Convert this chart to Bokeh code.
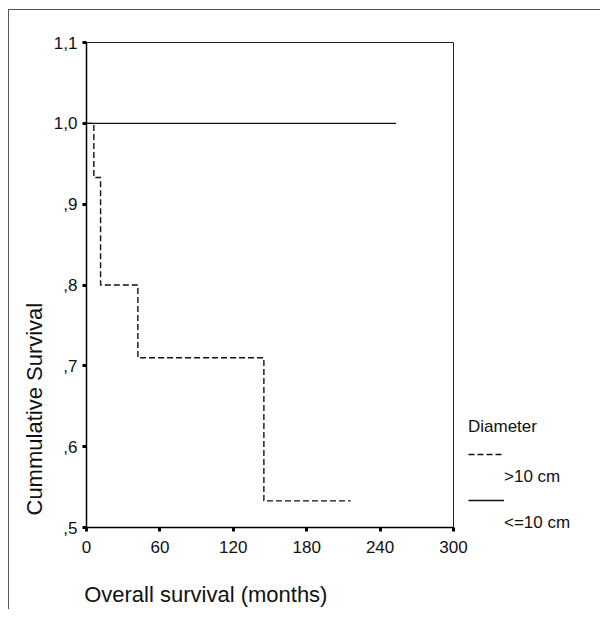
from bokeh.plotting import figure
from bokeh.models import FixedTicker, Range1d, Title, Legend, LegendItem
from bokeh.embed import file_html
from bokeh.resources import INLINE

# ---- data ----
x_ticks = [0, 60, 120, 180, 240, 300]
x_tick_labels = ["0", "60", "120", "180", "240", "300"]
y_ticks = [0.5, 0.6, 0.7, 0.8, 0.9, 1.0, 1.1]
y_tick_labels = [",5", ",6", ",7", ",8", ",9", "1,0", "1,1"]

# Diameter > 10 cm (dashed step curve)
time_gt10 = [0, 6, 11.5, 42, 145, 216]
surv_gt10 = [1.0, 0.933, 0.8, 0.71, 0.533, 0.533]
# Diameter <= 10 cm (solid line)
time_le10 = [0, 253]
surv_le10 = [1.0, 1.0]

legend_title = "Diameter"
series_labels = [">10 cm", "<=10 cm"]
x_label = "Overall survival (months)"
y_label = "Cummulative Survival"

FONT = "Liberation Sans"
INK = "#111111"
NBSP = "\u00a0"

p = figure(frame_width=367, frame_height=485, output_backend="svg", toolbar_location=None,
           x_range=Range1d(0, 300), y_range=Range1d(0.5, 1.1),
           min_border_left=86, min_border_right=147, min_border_top=42,
           min_border_bottom=82)
p.grid.visible = False
p.outline_line_color = "#222222"
p.outline_line_width = 1
p.background_fill_color = "white"
p.border_fill_color = None
# outer frame lines (top and left) drawn as the page background behind the canvas
p.styles = {
    "background-color": "white",
    "background-image": "linear-gradient(#555555, #555555), linear-gradient(#555555, #555555)",
    "background-size": "592px 1px, 1px 600px",
    "background-position": "8px 9px, 8px 9px",
    "background-repeat": "no-repeat",
}

for ax, ticks, labels in ((p.xaxis[0], x_ticks, x_tick_labels), (p.yaxis[0], y_ticks, y_tick_labels)):
    ax.ticker = FixedTicker(ticks=ticks)
    ax.major_label_overrides = {t: l for t, l in zip(ticks, labels)}
    ax.axis_line_color = "black"
    ax.axis_line_width = 1.5
    ax.major_tick_line_color = "black"
    ax.major_tick_line_width = 3
    ax.major_tick_in = 0
    ax.major_tick_out = 4
    ax.minor_tick_line_color = None
    ax.major_label_text_font = FONT
    ax.major_label_text_font_size = "17px"
    ax.major_label_text_color = INK
p.yaxis.major_label_standoff = 5
p.xaxis.major_label_standoff = 9

# x title: the SPSS title starts at the axis origin, so pad the centred label on the right
p.xaxis.axis_label = x_label + NBSP * 21
p.xaxis.axis_label_standoff = 26
p.xaxis.axis_label_text_font = FONT
p.xaxis.axis_label_text_font_size = "22px"
p.xaxis.axis_label_text_font_style = "normal"
p.xaxis.axis_label_text_color = INK

r_gt = p.step(time_gt10, surv_gt10, mode="after", line_color=INK, line_width=1.4,
              line_dash="6 3")
r_le = p.line(time_le10, surv_le10, line_color=INK, line_width=1.4)
# invisible renderer used only for the text rows of the legend
r_blank = p.line([0], [0.5], line_alpha=0)

# y title
p.add_layout(Title(text=y_label, align="left", offset=12, standoff=7,
                   text_font=FONT, text_font_size="22px", text_font_style="normal",
                   text_color=INK), "left")

# legend (SPSS style: line sample, then label underneath)
legend = Legend(items=[
    LegendItem(label=NBSP, renderers=[r_gt]),
    LegendItem(label=series_labels[0], renderers=[r_blank]),
    LegendItem(label=NBSP, renderers=[r_le]),
    LegendItem(label=series_labels[1], renderers=[r_blank]),
],
    title=legend_title, title_text_font=FONT, title_text_font_size="17px",
    title_text_font_style="normal", title_text_color=INK, title_standoff=7,
    label_text_font=FONT, label_text_font_size="17px", label_text_color=INK,
    glyph_width=36, glyph_height=20, label_standoff=0, spacing=3,
    padding=0, margin=0, border_line_color=None, background_fill_alpha=0,
    location=(15, -6))
p.add_layout(legend, "right")

open("out.html", "w").write(file_html(p, INLINE))
